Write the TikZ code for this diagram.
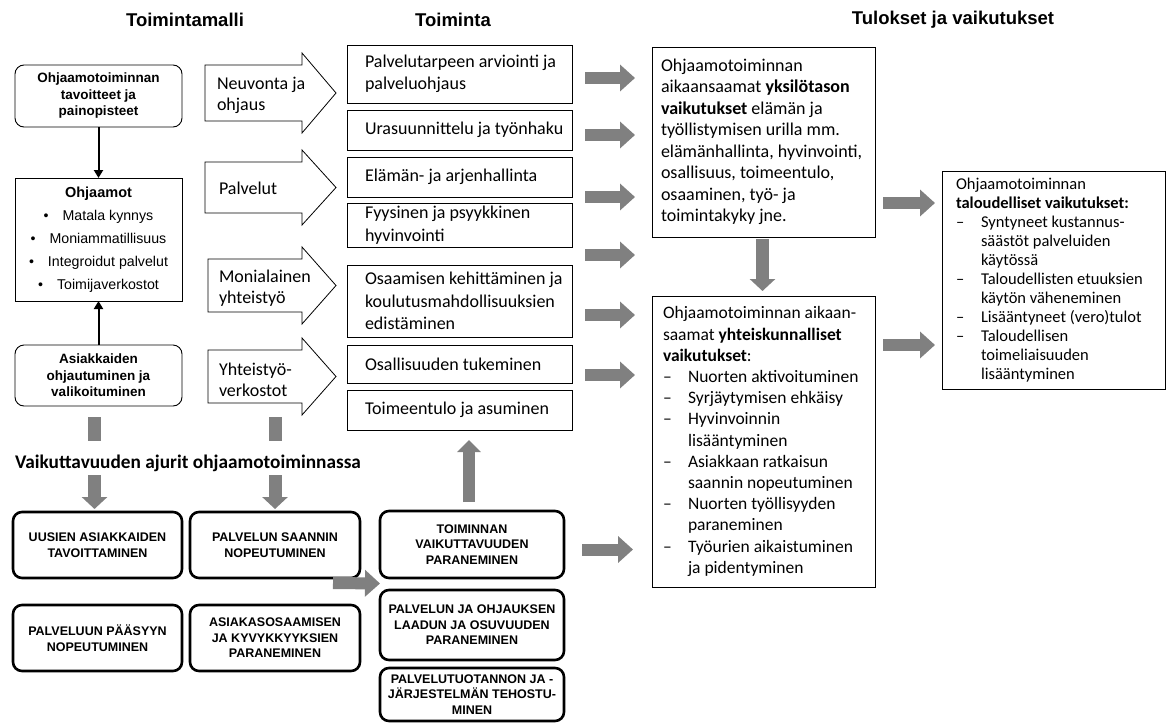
\documentclass[tikz,border=0pt]{standalone}
\usepackage{fontspec}
\setmainfont{Carlito}
\newfontfamily\arialfont{Liberation Sans}
\usetikzlibrary{arrows.meta,calc}
\definecolor{arrowgray}{RGB}{128,128,128}
\newcommand\listdash{\makebox[25pt][l]{–}}
\newcommand\listgap{\hspace*{25pt}}
% white block arrow: left x, shaft top, shaft bottom
\newcommand\blockarrow[3]{%
  \draw[line width=0.8pt, fill=white] (#1,#2) -- (302,#2) -- (302,#2-12)
    -- (336,{(#2+#3)/2}) -- (302,#3+12) -- (302,#3) -- (#1,#3) -- cycle;}
\begin{document}
\begin{tikzpicture}[x=1pt,y=-1pt,
  every node/.style={inner sep=0pt, outer sep=0pt},
  % left-aligned paragraph text with the font's own word spacing and a left margin
  lefttext/.style={align=left, inner xsep=0pt,
    execute at begin node={\spaceskip=0pt\xspaceskip=0pt\leftskip=#1\relax}},
  colhead/.style={font=\arialfont\bfseries\fontsize{18.5}{22}\selectfont},
  modelbox/.style={draw, line width=0.9pt, fill=white, align=center, anchor=north west},
  roundbox/.style={modelbox, rounded corners=9pt, font=\arialfont\bfseries\fontsize{13.5}{16.5}\selectfont},
  actbox/.style={draw, line width=0.8pt, anchor=north west, lefttext=18pt,
    text width=225pt, font=\fontsize{18}{22.5}\selectfont},
  resbox/.style={draw, line width=0.8pt, anchor=north west, lefttext=#1,
    font=\fontsize{17.5}{21.2}\selectfont},
  drvbox/.style={draw, line width=2.6pt, rounded corners=9pt, anchor=north west, align=center,
    font=\arialfont\bfseries\fontsize{12.5}{15.5}\selectfont},
  arrowtext/.style={anchor=west, lefttext=0pt, text width=92pt, font=\fontsize{18}{21}\selectfont},
  blackarrow/.style={line width=2pt, -{Triangle[length=8pt,width=9pt]}},
  garrow/.style={arrowgray, line width=12pt, -{Triangle[length=15pt,width=26pt]}},
  gdown/.style={arrowgray, line width=13pt, -{Triangle[length=12pt,width=25pt]}},
  gup/.style={arrowgray, line width=12pt, -{Triangle[length=12pt,width=23pt]}},
  gbar/.style={arrowgray, line width=13pt},
]
\useasboundingbox (0,0) rectangle (1174,723);
\fill[white] (0,0) rectangle (1174,723);

% column headings
\node[colhead] (hmodel) at (185,20) {Toimintamalli};
\node[colhead] (hact) at (453,20) {Toiminta};
\node[colhead] (hres) at (953,20) {Tulokset ja vaikutukset};

% operating model column
\node[roundbox, minimum width=167pt, minimum height=62pt] (goal) at (15,65)
  {Ohjaamotoiminnan\\tavoitteet ja\\painopisteet};
\node[modelbox, minimum width=167pt, minimum height=123pt,
  font=\arialfont\fontsize{14.2}{23}\selectfont] (ohj) at (15,178)
  {{\bfseries\fontsize{14.5}{17}\selectfont Ohjaamot}\\
   \textbullet\hspace{14pt}Matala kynnys\\
   \textbullet\hspace{14pt}Moniammatillisuus\\
   \textbullet\hspace{14pt}Integroidut palvelut\\
   \textbullet\hspace{14pt}Toimijaverkostot};
\node[roundbox, minimum width=167pt, minimum height=61pt] (asiak) at (15,345)
  {Asiakkaiden\\ohjautuminen ja\\valikoituminen};
\draw[blackarrow] (goal) -- (ohj);
\draw[blackarrow] (asiak) -- (ohj);

% white block arrows
\blockarrow{205}{65}{121}
\blockarrow{205}{162}{213}
\blockarrow{208}{259}{312}
\blockarrow{208}{350}{403}
\node[arrowtext] (neu) at (217,95) {Neuvonta ja\\ohjaus};
\node[arrowtext] (pal) at (219,188) {Palvelut};
\node[arrowtext] (mon) at (219,288) {Monialainen\\yhteistyö};
\node[arrowtext] (yht) at (219,380) {Yhteistyö-\\verkostot};

% activities column
\node[actbox, minimum height=58pt] (a1) at (347,45) {Palvelutarpeen arviointi ja\\palveluohjaus};
\node[actbox, minimum height=40pt] (a2) at (347,110) {Urasuunnittelu ja työnhaku};
\node[actbox, minimum height=40pt] (a3) at (347,157) {Elämän- ja arjenhallinta};
\node[actbox, minimum height=44pt] (a4) at (347,203) {Fyysinen ja psyykkinen\\hyvinvointi};
\node[actbox, minimum height=72pt] (a5) at (347,265) {Osaamisen kehittäminen ja\\koulutusmahdollisuuksien\\edistäminen};
\node[actbox, minimum height=38pt] (a6) at (347,345) {Osallisuuden tukeminen};
\node[actbox, minimum height=40pt] (a7) at (347,390) {Toimeentulo ja asuminen};

% results column
\node[resbox=9pt, text width=223pt, minimum height=190pt, font=\fontsize{18}{21.5}\selectfont] (ind) at (652,47)
  {Ohjaamotoiminnan\\
   aikaansaamat \textbf{yksilötason}\\
   \textbf{vaikutukset} elämän ja\\
   työllistymisen urilla mm.\\
   elämänhallinta, hyvinvointi,\\
   osallisuus, toimeentulo,\\
   osaaminen, työ- ja\\
   toimintakyky jne.};
\node[resbox=11pt, text width=223pt, minimum height=291pt] (soc) at (652,296)
  {Ohjaamotoiminnan aikaan-\\
   saamat \textbf{yhteiskunnalliset}\\
   \textbf{vaikutukset}:\\
   \listdash Nuorten aktivoituminen\\
   \listdash Syrjäytymisen ehkäisy\\
   \listdash Hyvinvoinnin\\
   \listgap lisääntyminen\\
   \listdash Asiakkaan ratkaisun\\
   \listgap saannin nopeutuminen\\
   \listdash Nuorten työllisyyden\\
   \listgap paraneminen\\
   \listdash Työurien aikaistuminen\\
   \listgap ja pidentyminen};
\node[resbox=14pt, text width=223pt, minimum height=218pt, font=\fontsize{16.5}{19}\selectfont] (eco) at (942,171)
  {Ohjaamotoiminnan\\
   \textbf{taloudelliset vaikutukset:}\\
   \listdash Syntyneet kustannus-\\
   \listgap säästöt palveluiden\\
   \listgap käytössä\\
   \listdash Taloudellisten etuuksien\\
   \listgap käytön väheneminen\\
   \listdash Lisääntyneet (vero)tulot\\
   \listdash Taloudellisen\\
   \listgap toimeliaisuuden\\
   \listgap lisääntyminen};

% impact drivers
\node[anchor=west, font=\bfseries\fontsize{19.3}{22}\selectfont] (drivers) at (15,463)
  {Vaikuttavuuden ajurit ohjaamotoiminnassa};
\node[drvbox, minimum width=169pt, minimum height=66pt] (d1) at (13,512) {UUSIEN ASIAKKAIDEN\\TAVOITTAMINEN};
\node[drvbox, minimum width=169pt, minimum height=66pt] (d2) at (13,605) {PALVELUUN PÄÄSYYN\\NOPEUTUMINEN};
\node[drvbox, minimum width=170pt, minimum height=66pt] (d3) at (190,512) {PALVELUN SAANNIN\\NOPEUTUMINEN};
\node[drvbox, minimum width=170pt, minimum height=66pt] (d4) at (190,605) {ASIAKASOSAAMISEN\\JA KYVYKKYYKSIEN\\PARANEMINEN};
\node[drvbox, minimum width=184pt, minimum height=67pt] (d5) at (380,511) {TOIMINNAN\\VAIKUTTAVUUDEN\\PARANEMINEN};
\node[drvbox, minimum width=184pt, minimum height=70pt] (d6) at (380,590) {PALVELUN JA OHJAUKSEN\\LAADUN JA OSUVUUDEN\\PARANEMINEN};
\node[drvbox, minimum width=184pt, minimum height=53pt] (d7) at (380,668) {PALVELUTUOTANNON JA -\\JÄRJESTELMÄN TEHOSTU-\\MINEN};

% grey connectors
\draw[gbar] ($(d1.north)+(-3,-95)$) -- ($(d1.north)+(-3,-71)$);
\draw[gbar] ($(d3.north)+(0,-95)$) -- ($(d3.north)+(0,-71)$);
\draw[gdown] ($(d1.north)+(-3,-37)$) -- ($(d1.north)+(-3,-3)$);
\draw[gdown] ($(d3.north)+(0,-37)$) -- ($(d3.north)+(0,-3)$);
\draw[garrow] ($(d3.east)+(-27,38)$) -- ($(d5.west)+(0,39)$);
\draw[gup] ($(d5.north)+(-3,-9)$) -- ($(d5.north |- a7.south)+(-3,10)$);
\draw[garrow] ($(d5.east)+(18,5)$) -- ($(d5.east)+(69,5)$);

\foreach \yy/\nm in {78/r1,135/r2,197/r3,255/r4,315/r5,375/r6}{
  \coordinate (\nm s) at (585,\yy);
  \coordinate (\nm e) at (635,\yy);
  \draw[garrow] (\nm s) -- (\nm e);
}
\draw[gdown] (ind.south) ++(-1,2) -- ($(soc.north)+(-1,-5)$);
\draw[garrow] ($(ind.east |- 0,203)+(8,0)$) -- ($(eco.west |- 0,203)+(-7,0)$);
\draw[garrow] ($(soc.east |- 0,345)+(8,0)$) -- ($(eco.west |- 0,345)+(-7,0)$);
\end{tikzpicture}
\end{document}
